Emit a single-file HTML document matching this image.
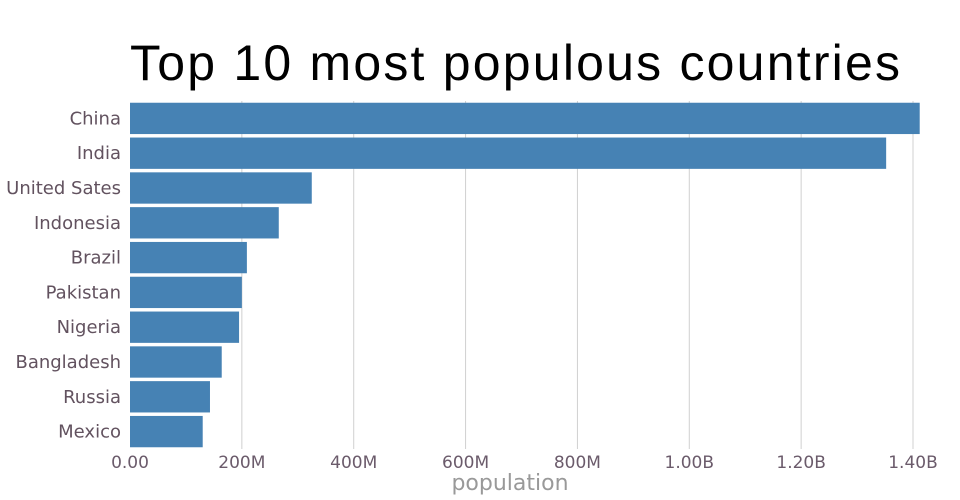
<!DOCTYPE html>
<html><head><meta charset="utf-8"><style>
body{margin:0;background:#fff;}
svg{display:block;font-family:"DejaVu Sans","Liberation Sans",sans-serif;}
</style></head><body>
<svg id="chart" width="960" height="500">
<text x="515" y="80" text-anchor="middle" font-size="50" fill="#000" style="font-family:'Liberation Sans',sans-serif" textLength="770">Top 10 most populous countries</text>
<g id="grid"></g><g id="bars"></g><g id="ylabels"></g><g id="xlabels"></g>
<text x="510" y="490" text-anchor="middle" font-size="22" fill="#999">population</text>
</svg>
<script>
const countries=["China","India","United Sates","Indonesia","Brazil","Pakistan","Nigeria","Bangladesh","Russia","Mexico"];
const population=[1412e6,1352e6,325e6,266e6,209e6,200e6,195e6,164e6,143e6,130e6];
const tickValues=[0,2e8,4e8,6e8,8e8,1e9,1.2e9,1.4e9];
const tickLabels=["0.00","200M","400M","600M","800M","1.00B","1.20B","1.40B"];
const NS="http://www.w3.org/2000/svg";
const x0=130,x1=913,y0=101,y1=449;
const x=v=>x0+v/1.4e9*(x1-x0);
const band=(y1-y0)/countries.length;
const y=i=>y0+i*band;
function mk(t,a,p){const e=document.createElementNS(NS,t);for(const k in a)e.setAttribute(k,a[k]);document.getElementById(p).appendChild(e);return e;}
tickValues.forEach((v,i)=>{
 if(i>0){const l=mk("line",{x1:x(v),x2:x(v),y1:y0,y2:y1,stroke:"#d0d0d0","stroke-width":1},"grid");
 
 }
 const t=mk("text",{x:x(v),y:468,"text-anchor":"middle","font-size":17,fill:"#6b5b6b"},"xlabels");
 t.textContent=tickLabels[i];
 
 
});
countries.forEach((c,i)=>{
 const r=mk("rect",{x:x0,y:y(i)+band*0.05,width:x(population[i])-x0,height:band*0.9,fill:"#4682b4"},"bars");
 
 
 const t=mk("text",{x:121,y:y(i)+band/2+6,"text-anchor":"end","font-size":18,fill:"#62525f"},"ylabels");
 t.textContent=c;
 
 
});
</script>
</body></html>
